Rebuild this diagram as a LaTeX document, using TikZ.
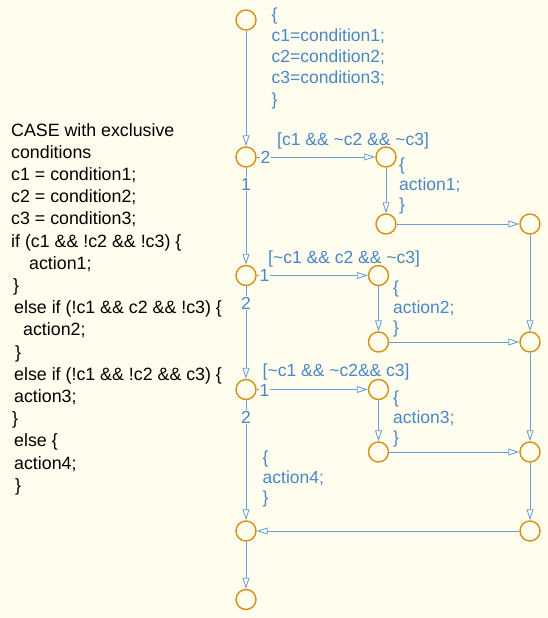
\documentclass[tikz,border=0pt]{standalone}
\usepackage{fontspec}
\setmainfont{Liberation Sans}
\usetikzlibrary{arrows.meta}
\definecolor{bg}{HTML}{FFFDED}
\definecolor{jorange}{HTML}{D68F12}
\definecolor{lblue}{HTML}{6A9FD8}
\definecolor{tblue}{HTML}{4A86C8}
\newcommand{\tl}{\textasciitilde}
\begin{document}
\begin{tikzpicture}[x=1pt,y=-1pt,
  junc/.style={circle,draw=jorange,line width=1.4pt,minimum size=20pt,inner sep=0pt,fill=bg},
  conn/.style={draw=lblue,line width=0.9pt,-{Triangle[open,length=11pt,width=7pt]}},
  btext/.style={text=tblue,font=\fontsize{17.5}{21}\selectfont,anchor=base west,inner sep=0pt},
  ltext/.style={text=black,font=\fontsize{17.8}{21}\selectfont,anchor=base west,inner sep=0pt},
  tlab/.style={text=tblue,font=\fontsize{17.5}{21}\selectfont,anchor=base,fill=bg,inner sep=1pt},
]
\fill[bg] (0,0) rectangle (548,618);
\useasboundingbox (0,0) rectangle (548,618);

% junctions
\node[junc] (J0) at (246,20) {};
\node[junc] (J1) at (246,157) {};
\node[junc] (A1) at (386,157) {};
\node[junc] (B1) at (386,224) {};
\node[junc] (C1) at (530,224) {};
\node[junc] (J2) at (246,275.5) {};
\node[junc] (A2) at (378.5,275.5) {};
\node[junc] (B2) at (378.5,342) {};
\node[junc] (C2) at (530,342) {};
\node[junc] (J3) at (246,389.5) {};
\node[junc] (A3) at (378.5,389.5) {};
\node[junc] (B3) at (378.5,452) {};
\node[junc] (C3) at (530,452) {};
\node[junc] (J4) at (246,531) {};
\node[junc] (C4) at (530,531) {};
\node[junc] (J5) at (246,599.5) {};

% connectors
\draw[conn] (J0) -- (J1);
\draw[conn] (J1) -- (A1);
\draw[conn] (A1) -- (B1);
\draw[conn] (B1) -- (C1);
\draw[conn] (C1) -- (C2);
\draw[conn] (J1) -- (J2);
\draw[conn] (J2) -- (A2);
\draw[conn] (A2) -- (B2);
\draw[conn] (B2) -- (C2);
\draw[conn] (C2) -- (C3);
\draw[conn] (J2) -- (J3);
\draw[conn] (J3) -- (A3);
\draw[conn] (A3) -- (B3);
\draw[conn] (B3) -- (C3);
\draw[conn] (C3) -- (C4);
\draw[conn] (C4) -- (J4);
\draw[conn] (J3) -- (J4);
\draw[conn] (J4) -- (J5);

% transition order labels
\node[tlab] (o1a) at (265.5,163) {2};
\node[tlab] (o1b) at (246,190) {1};
\node[tlab] (o2a) at (264.5,281.5) {1};
\node[tlab] (o2b) at (246,309) {2};
\node[tlab] (o3a) at (264.5,396.5) {1};
\node[tlab] (o3b) at (246,423) {2};

% guards
\node[btext] (g1) at (277,145) {[c1 \&\& \tl c2 \&\& \tl c3]};
\node[btext] (g2) at (268,263) {[\tl c1 \&\& c2 \&\& \tl c3]};
\node[btext] (g3) at (262.5,376) {[\tl c1 \&\& \tl c2\&\& c3]};

% initial action block
\node[btext] (t0a) at (271.5,21) {\{};
\node[btext] (t0b) at (271.5,42) {c1=condition1;};
\node[btext] (t0c) at (271.5,63) {c2=condition2;};
\node[btext] (t0d) at (271.5,84) {c3=condition3;};
\node[btext] (t0e) at (271.5,105) {\}};

% action blocks
\node[btext] (t1a) at (399,170) {\{};
\node[btext] (t1b) at (399,190) {action1;};
\node[btext] (t1c) at (399,210) {\}};
\node[btext] (t2a) at (393,293) {\{};
\node[btext] (t2b) at (393,313) {action2;};
\node[btext] (t2c) at (393,333) {\}};
\node[btext] (t3a) at (393,403) {\{};
\node[btext] (t3b) at (393,423) {action3;};
\node[btext] (t3c) at (393,443) {\}};
\node[btext] (t4a) at (262.5,463) {\{};
\node[btext] (t4b) at (262.5,483) {action4;};
\node[btext] (t4c) at (262.5,503) {\}};

% left description
\node[ltext] (l0) at (11,136) {CASE with exclusive};
\node[ltext] (l1) at (11,158.2) {conditions};
\node[ltext] (l2) at (11,180.4) {c1 = condition1;};
\node[ltext] (l3) at (11,202.6) {c2 = condition2;};
\node[ltext] (l4) at (11,224.8) {c3 = condition3;};
\node[ltext] (l5) at (11,247) {if (c1 \&\& !c2 \&\& !c3) \{};
\node[ltext] (l6) at (29,269.2) {action1;};
\node[ltext] (l7) at (13,291.4) {\}};
\node[ltext] (l8) at (14,313.6) {else if (!c1 \&\& c2 \&\& !c3) \{};
\node[ltext] (l9) at (23,335.8) {action2;};
\node[ltext] (l10) at (15,358) {\}};
\node[ltext] (l11) at (14,380.2) {else if (!c1 \&\& !c2 \&\& c3) \{};
\node[ltext] (l12) at (14,402.4) {action3;};
\node[ltext] (l13) at (12,424.6) {\}};
\node[ltext] (l14) at (14,446.8) {else \{};
\node[ltext] (l15) at (14,469) {action4;};
\node[ltext] (l16) at (15,491.2) {\}};
\end{tikzpicture}
\end{document}
